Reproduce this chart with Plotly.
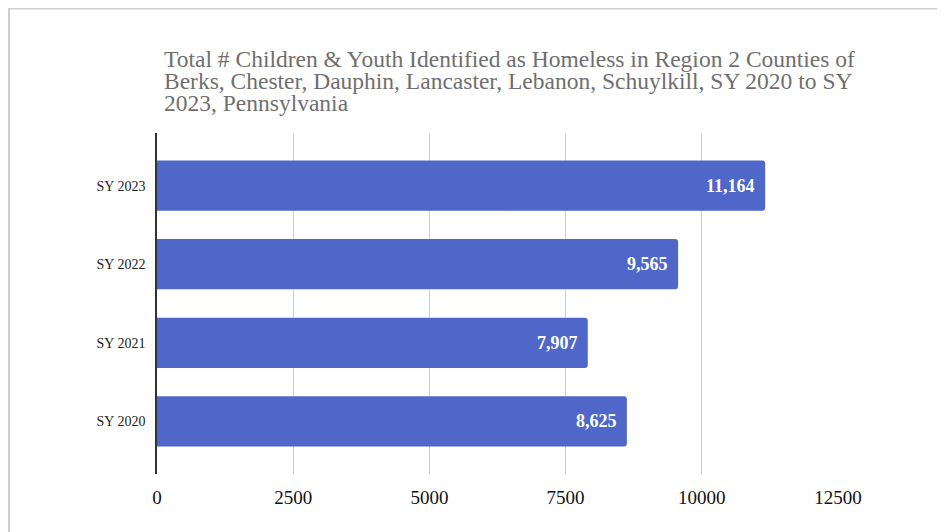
import plotly.graph_objects as go

categories = ["SY 2020", "SY 2021", "SY 2022", "SY 2023"]
values = [8625, 7907, 9565, 11164]
x_ticks = [0, 2500, 5000, 7500, 10000, 12500]
title_lines = [
    "Total # Children & Youth Identified as Homeless in Region 2 Counties of",
    "Berks, Chester, Dauphin, Lancaster, Lebanon, Schuylkill, SY 2020 to SY",
    "2023, Pennsylvania",
]

SERIF = "Liberation Serif"
BAR_COLOR = "#4e67c8"

# page body has an 8px margin, so figure coords = page coords - 8
FW, FH = 937, 524
L, R, T, B = 149, 830, 125, 466
W, H = R - L, B - T
def px(x): return (x - L) / W
def py(y): return (B - y) / H

fig = go.Figure()
fig.add_trace(go.Bar(
    y=categories, x=values, orientation="h",
    marker=dict(color=BAR_COLOR, cornerradius=3, line=dict(width=0)),
    width=0.64, hoverinfo="skip",
))

for c, v in zip(categories, values):
    fig.add_annotation(x=v, y=c, text=f"<b>{v:,}</b>", showarrow=False,
                       xanchor="right", xshift=-8,
                       font=dict(family=SERIF, size=18, color="white"))

for i, line in enumerate(title_lines):
    fig.add_annotation(xref="paper", yref="paper", x=px(155), y=py(51 + 22 * i),
                       xanchor="left", yanchor="middle", showarrow=False,
                       text=line, align="left", borderpad=0,
                       font=dict(family=SERIF, size=23.5, color="#6f6f6f"))

# card border
fig.add_shape(type="line", xref="paper", yref="paper",
              x0=px(0.5), x1=px(0.5), y0=py(FH + 5), y1=py(0),
              line=dict(color="#cfcfcf", width=3))
fig.add_shape(type="line", xref="paper", yref="paper",
              x0=px(-1), x1=px(FW + 5), y0=py(0), y1=py(0),
              line=dict(color="#cfcfcf", width=3))

fig.update_layout(
    width=FW, height=FH,
    margin=dict(l=L, r=FW - R, t=T, b=FH - B),
    paper_bgcolor="white", plot_bgcolor="white",
    showlegend=False,
    font=dict(family=SERIF),
    xaxis=dict(range=[0, 12500], tickvals=x_ticks, ticktext=[str(t) for t in x_ticks],
               showgrid=True, gridcolor="#cfcfcf", gridwidth=1, zeroline=False,
               showline=False, ticks="", ticklabelstandoff=10,
               tickfont=dict(family=SERIF, size=19, color="#111")),
    yaxis=dict(categoryorder="array", categoryarray=categories,
               range=[-0.67, 3.67], showgrid=False, zeroline=False,
               showline=True, linecolor="#333", linewidth=1.5,
               ticks="", ticklabelstandoff=7,
               tickfont=dict(family=SERIF, size=14, color="#222")),
)

fig.write_html("out.html")
